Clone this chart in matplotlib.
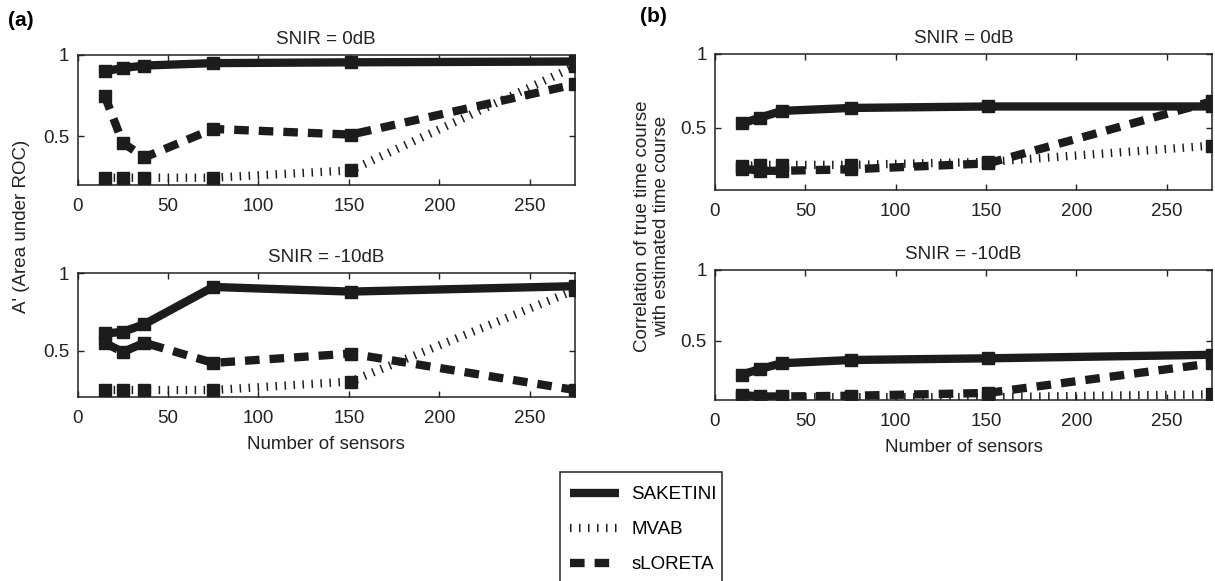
import matplotlib
matplotlib.use('Agg')
import matplotlib.pyplot as plt
from matplotlib.lines import Line2D
from matplotlib.patches import Rectangle

plt.rcParams['font.family'] = ['Liberation Sans', 'DejaVu Sans']

sensors = [15, 25, 37, 75, 151, 275]

# (a) A' (area under ROC)
auc_0db_saketini = [0.90, 0.92, 0.935, 0.95, 0.955, 0.96]
auc_0db_mvab = [0.245, 0.245, 0.245, 0.245, 0.29, 0.93]
auc_0db_sloreta = [0.75, 0.46, 0.37, 0.545, 0.51, 0.82]

auc_10db_saketini = [0.61, 0.62, 0.67, 0.91, 0.88, 0.915]
auc_10db_mvab = [0.245, 0.245, 0.245, 0.245, 0.30, 0.89]
auc_10db_sloreta = [0.55, 0.49, 0.55, 0.42, 0.48, 0.245]

# (b) correlation of time courses
corr_0db_saketini = [0.53, 0.57, 0.615, 0.635, 0.645, 0.645]
corr_0db_mvab = [0.24, 0.25, 0.25, 0.25, 0.27, 0.38]
corr_0db_sloreta = [0.225, 0.21, 0.21, 0.22, 0.26, 0.68]

corr_10db_saketini = [0.26, 0.30, 0.34, 0.363, 0.375, 0.40]
corr_10db_mvab = [0.10, 0.10, 0.10, 0.10, 0.10, 0.12]
corr_10db_sloreta = [0.115, 0.105, 0.105, 0.11, 0.13, 0.34]

methods = ['SAKETINI', 'MVAB', 'sLORETA']

INK = '#1c1c1c'
TXT = '#222222'
LW = 6
styles = {
    'SAKETINI': dict(linestyle='-'),
    'MVAB': dict(linestyle=(0, (0.18, 0.9))),
    'sLORETA': dict(linestyle=(0, (1.75, 1.2))),
}

FS = 13.5
W, H = 1215, 581
fig = plt.figure(figsize=(W / 100, H / 100), dpi=100)


def px_axes(left, top, right, bottom):
    return fig.add_axes([left / W, 1 - bottom / H, (right - left) / W, (bottom - top) / H])


def panel(ax, title, saketini, mvab, sloreta, ylim):
    for name, vals in (('MVAB', mvab), ('sLORETA', sloreta), ('SAKETINI', saketini)):
        ax.plot(sensors, vals, color=INK, lw=LW, marker='s', markersize=9,
                dash_capstyle='butt', solid_capstyle='butt', **styles[name])
    ax.set_xlim(0, 275)
    ax.set_ylim(*ylim)
    ax.set_xticks([0, 50, 100, 150, 200, 250])
    ax.set_yticks([0.5, 1])
    ax.set_yticklabels(['0.5', '1'])
    ax.tick_params(direction='in', top=True, right=True, length=4, width=1,
                   labelsize=FS, colors=TXT)
    ax.tick_params(axis='x', pad=9.5)
    ax.tick_params(axis='y', pad=6)
    for s in ax.spines.values():
        s.set_linewidth(1.1)
        s.set_color(TXT)
    ax.set_title(title, fontsize=FS, pad=8, color=TXT)


ax1 = px_axes(77.5, 55, 575, 185)
panel(ax1, 'SNIR = 0dB', auc_0db_saketini, auc_0db_mvab, auc_0db_sloreta, (0.2, 1))
ax2 = px_axes(77.5, 273, 575, 397)
panel(ax2, 'SNIR = -10dB', auc_10db_saketini, auc_10db_mvab, auc_10db_sloreta, (0.2, 1))
ax3 = px_axes(715, 54, 1212, 190)
panel(ax3, 'SNIR = 0dB', corr_0db_saketini, corr_0db_mvab, corr_0db_sloreta, (0.08, 1))
ax4 = px_axes(715, 270, 1212, 400)
panel(ax4, 'SNIR = -10dB', corr_10db_saketini, corr_10db_mvab, corr_10db_sloreta, (0.08, 1))

for ax in (ax2, ax4):
    ax.set_xlabel('Number of sensors', fontsize=FS, labelpad=6, color=TXT)

fig.text(22 / W, 1 - 226 / H, "A' (Area under ROC)", rotation=90, ha='center', va='center',
         fontsize=FS, color=TXT)
fig.text(652 / W, 1 - 226 / H, 'Correlation of true time course\nwith estimated time course',
         rotation=90, ha='center', va='center', fontsize=FS, color=TXT,
         linespacing=1.1)

fig.text(8 / W, 1 - 20 / H, '(a)', fontsize=15, fontweight='bold', va='center', ha='left')
fig.text(640 / W, 1 - 17 / H, '(b)', fontsize=15, fontweight='bold', va='center', ha='left')

# legend: entries without frame, box drawn separately so it runs off the bottom edge
handles = [Line2D([], [], color=INK, lw=LW, dash_capstyle='butt', solid_capstyle='butt',
                  **styles[m]) for m in methods]
leg = fig.legend(handles, methods, loc='upper left', bbox_to_anchor=(560 / W, 1 - 476 / H),
                 fontsize=FS, frameon=False, handlelength=2.6,
                 handletextpad=0.65, borderpad=0.55, labelspacing=0.95, borderaxespad=0)
fig.add_artist(Rectangle((560 / W, -0.05), 162 / W, 0.05 + (H - 472) / H,
                         transform=fig.transFigure, fill=False, edgecolor=TXT, lw=1.1))

fig.savefig('out.png', dpi=100)
